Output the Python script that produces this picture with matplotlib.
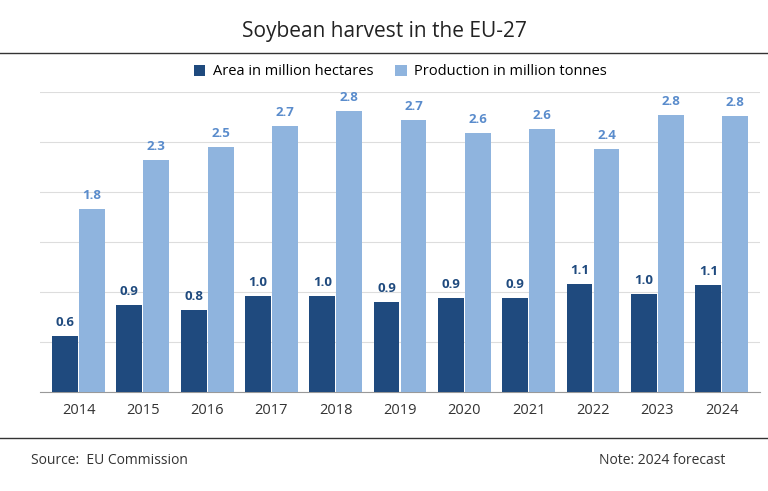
import numpy as np
import matplotlib.pyplot as plt

plt.rcParams['font.family'] = ['Open Sans', 'DejaVu Sans']

years = ['2014', '2015', '2016', '2017', '2018', '2019', '2020', '2021', '2022', '2023', '2024']
area = [0.56, 0.87, 0.82, 0.96, 0.96, 0.90, 0.94, 0.94, 1.08, 0.98, 1.07]
production = [1.83, 2.32, 2.45, 2.66, 2.81, 2.72, 2.59, 2.63, 2.43, 2.77, 2.76]

dark = '#1f4a7e'
light = '#8fb4de'

fig = plt.figure(figsize=(7.68, 4.91), dpi=100)
ax = fig.add_axes([0.052, 0.202, 0.938, 0.61])

x = np.arange(len(years))
w = 0.4
b1 = ax.bar(x - 0.21, area, w, color=dark, label='Area in million hectares', zorder=3)
b2 = ax.bar(x + 0.21, production, w, color=light, label='Production in million tonnes', zorder=3)

for r, v in zip(b1, area):
    ax.text(r.get_x() + r.get_width() / 2, v + 0.07, '%.1f' % v, ha='center', va='bottom',
            fontsize=9.5, fontweight='bold', color=dark)
for r, v in zip(b2, production):
    ax.text(r.get_x() + r.get_width() / 2, v + 0.07, '%.1f' % v, ha='center', va='bottom',
            fontsize=9.5, fontweight='bold', color='#5a8ccc')

ax.set_xlim(-0.6, len(years) - 0.4)
ax.set_ylim(0, 3.0)
ax.set_yticks(np.arange(0, 3.01, 0.5))
ax.set_yticklabels([])
ax.tick_params(axis='y', length=0)
ax.tick_params(axis='x', length=0, labelsize=10.5, colors='#333333', pad=8)
ax.set_xticks(x)
ax.set_xticklabels(years)
ax.yaxis.grid(True, color='#dddddd', linewidth=0.8, zorder=0)
for s in ['top', 'right', 'left']:
    ax.spines[s].set_visible(False)
ax.spines['bottom'].set_color('#999999')

ax.legend(loc='lower center', bbox_to_anchor=(0.5, 1.0), ncol=2, frameon=False,
          fontsize=10.5, handlelength=0.8, handleheight=0.8, handletextpad=0.5,
          columnspacing=1.5)

fig.text(0.5, 0.935, 'Soybean harvest in the EU-27', ha='center', va='center', fontsize=15, color='#222222')
fig.add_artist(plt.Line2D([0, 1], [0.893, 0.893], color='#333333', linewidth=1))
fig.add_artist(plt.Line2D([0, 1], [0.107, 0.107], color='#333333', linewidth=1))
fig.text(0.04, 0.062, 'Source:  EU Commission', ha='left', va='center', fontsize=10, color='#333333')
fig.text(0.945, 0.062, 'Note: 2024 forecast', ha='right', va='center', fontsize=10, color='#333333')

fig.savefig('out.png', dpi=100)
